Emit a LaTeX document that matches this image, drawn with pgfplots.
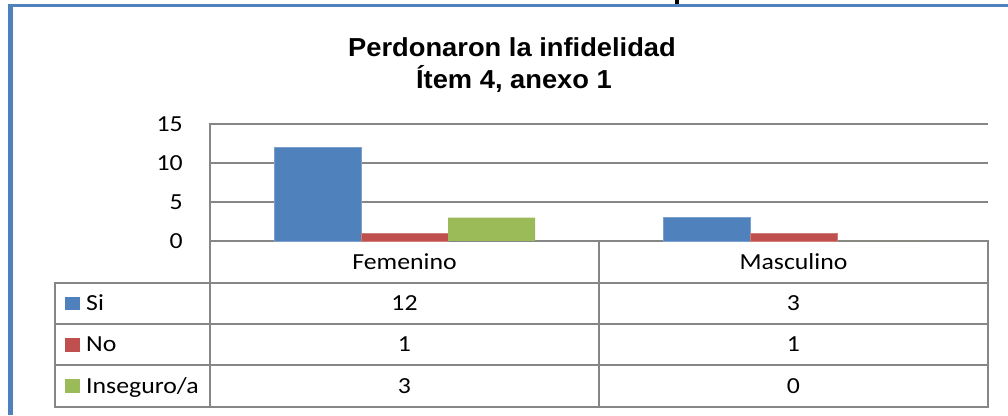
\documentclass[border=0pt]{standalone}
\usepackage{fontspec}
\usepackage{graphicx}
\usepackage{pgfplots}
\pgfplotsset{compat=1.18}
\newfontfamily\calibri{Carlito}
\newfontfamily\arial{Liberation Sans}
\definecolor{xblue}{RGB}{79,129,189}
\definecolor{xred}{RGB}{192,80,77}
\definecolor{xgreen}{RGB}{155,187,89}
\definecolor{xgrid}{RGB}{134,134,134}
\definecolor{xframe}{RGB}{79,129,189}
\newcommand\cf{\calibri\fontsize{23}{25}\selectfont}
\newcommand\sx[1]{\scalebox{1.12}[1]{#1}}
\begin{document}
\begin{tikzpicture}[x=1pt,y=1pt]
\path (0,0) rectangle (1008,415);
\begin{axis}[
  at={(210pt,174pt)}, anchor=south west,
  scale only axis, width=778pt, height=117pt,
  xmin=0, xmax=2, ymin=0, ymax=15,
  xtick=\empty, ytick={0,5,10,15},
  axis line style={draw=none},
  major tick length=0pt,
  ymajorgrids, grid style={xgrid, line width=2pt},
  /pgf/number format/assume math mode=true,
  yticklabel style={font=\cf, anchor=east, inner sep=0pt, xshift=-27pt},
  yticklabel={\sx{\pgfmathprintnumber{\tick}}},
  ybar=0pt, bar width=87pt, clip=false]
\addplot[fill=xblue, draw=xblue!75!white, line width=0.6pt] coordinates {(0.5,12) (1.5,3)};
\addplot[fill=xred, draw=xred!75!white, line width=0.6pt] coordinates {(0.5,1) (1.5,1)};
\addplot[fill=xgreen, draw=none] coordinates {(0.5,3) (1.5,0)};
\end{axis}
% frame
\fill[xframe] (8,0) rectangle (12.5,411);
\fill[xframe] (8,408) rectangle (1008,411);
\fill[black] (675,411) rectangle (679,415);
% data table lines
\begin{scope}[xgrid, line width=2pt, line cap=rect]
\draw (210,291) -- (210,8);
\draw (55,132) -- (988,132);
\draw (55,91) -- (988,91);
\draw (55,50) -- (988,50);
\draw (55,8) -- (988,8);
\draw (55,132) -- (55,8);
\draw (598.5,174) -- (598.5,8);
\draw (988,174) -- (988,8);
\end{scope}
% title
\node[font=\arial\bfseries\fontsize{26}{30}\selectfont, anchor=base] at (512,358) {\scalebox{1.05}[1]{Perdonaron la infidelidad}};
\node[font=\arial\bfseries\fontsize{26}{30}\selectfont, anchor=base] at (514,326) {\scalebox{1.05}[1]{Ítem 4, anexo 1}};
% categories
\node[font=\cf, anchor=base] at (404.5,145) {\sx{Femenino}};
\node[font=\cf, anchor=base] at (793.5,145) {\sx{Masculino}};
% values
\node[font=\cf, anchor=base] at (404.5,104.5) {\sx{12}};
\node[font=\cf, anchor=base] at (793.5,104.5) {\sx{3}};
\node[font=\cf, anchor=base] at (404.5,63.5) {\sx{1}};
\node[font=\cf, anchor=base] at (793.5,63.5) {\sx{1}};
\node[font=\cf, anchor=base] at (404.5,22) {\sx{3}};
\node[font=\cf, anchor=base] at (793.5,22) {\sx{0}};
% legend keys
\fill[xblue] (65,105) rectangle (80,118);
\fill[xred] (65,63.5) rectangle (80,77.5);
\fill[xgreen] (65,22) rectangle (80,36);
\node[font=\cf, anchor=base west, inner sep=0pt] at (86,104.5) {\sx{Si}};
\node[font=\cf, anchor=base west, inner sep=0pt] at (86,63.5) {\sx{No}};
\node[font=\cf, anchor=base west, inner sep=0pt] at (86,22) {\sx{Inseguro/a}};
\end{tikzpicture}
\end{document}
